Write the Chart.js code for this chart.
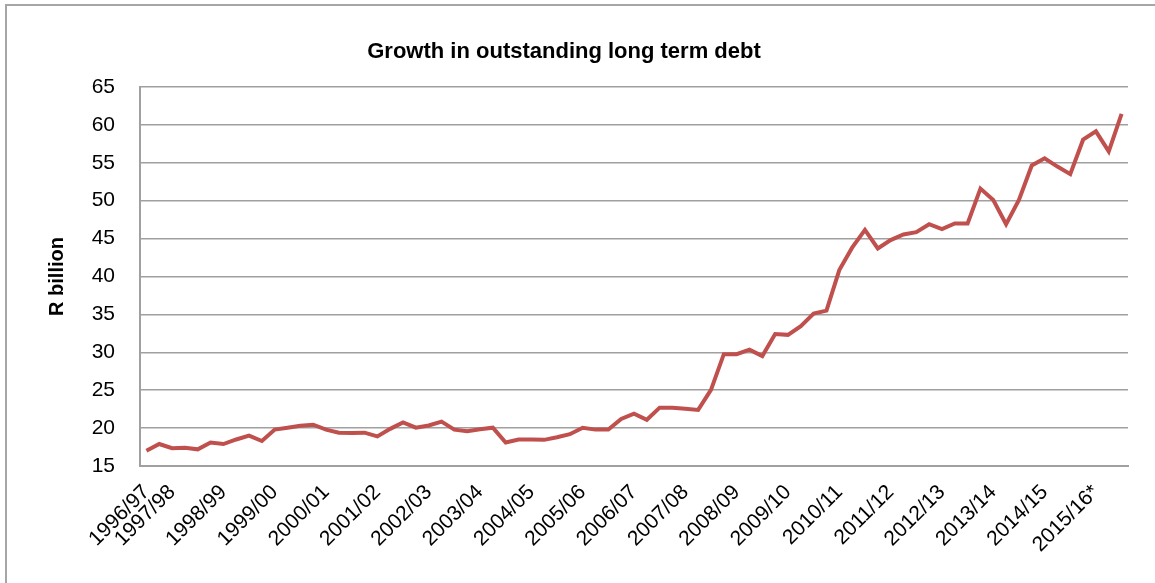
<!DOCTYPE html>
<html>
<head>
<meta charset="utf-8">
<title>Growth in outstanding long term debt</title>
<script src="https://cdn.jsdelivr.net/npm/chart.js@4/dist/chart.umd.min.js"></script>
<style>
    html, body { margin: 0; padding: 0; background: #fff; overflow: hidden; }
    #wrap { position: relative; width: 1155px; height: 583px; }
    #frame {
        position: absolute; left: 5px; top: 4px; width: 1200px; height: 700px;
        border-left: 2px solid #a6a6a6; border-top: 2px solid #a6a6a6;
    }
    canvas { position: absolute; left: 0; top: 0; }
</style>
</head>
<body>
<div id="wrap">
    <div id="frame"></div>
    <canvas id="debtChart" width="1155" height="583"></canvas>
</div>
<script>
// fiscal-year tick labels (first point is Q3 of 1996/97, then each label sits on Q1)
const yearLabels = ['1996/97', '1997/98', '1998/99', '1999/00', '2000/01', '2001/02', '2002/03',
    '2003/04', '2004/05', '2005/06', '2006/07', '2007/08', '2008/09', '2009/10', '2010/11',
    '2011/12', '2012/13', '2013/14', '2014/15', '2015/16*'];

// outstanding long term debt per quarter, R billion
const debt = [
    17.0, 17.9, 17.35, 17.4, 17.2, 18.1, 17.9, 18.5, 19.0, 18.3,
    19.8, 20.05, 20.3, 20.45, 19.8, 19.4, 19.35, 19.4, 18.9, 19.9,
    20.75, 20.05, 20.35, 20.85, 19.8, 19.6, 19.85, 20.05, 18.1, 18.5,
    18.5, 18.45, 18.8, 19.2, 20.05, 19.8, 19.8, 21.2, 21.9, 21.1,
    22.7, 22.7, 22.55, 22.4, 25.05, 29.75, 29.75, 30.35, 29.5, 32.4,
    32.3, 33.45, 35.1, 35.5, 40.85, 43.8, 46.15, 43.7, 44.8, 45.55,
    45.85, 46.9, 46.25, 47.0, 47.0, 51.6, 50.1, 46.9, 50.1, 54.65,
    55.6, 54.5, 53.5, 58.05, 59.15, 56.5, 61.45
];

const yTicks = [15, 20, 25, 30, 35, 40, 45, 50, 55, 60, 65];

const categories = debt.map((v, i) => {
    if (i === 0) return yearLabels[0];
    if ((i - 2) % 4 === 0) return yearLabels[(i - 2) / 4 + 1];
    return '';
});

const FONT = "'Liberation Sans', Arial, sans-serif";
const GRID = '#a0a0a0';

new Chart(document.getElementById('debtChart'), {
    type: 'line',
    data: {
        labels: categories,
        datasets: [{
            data: debt,
            borderColor: '#c0504d',
            borderWidth: 4,
            pointRadius: 0,
            tension: 0,
            fill: false
        }]
    },
    options: {
        responsive: false,
        animation: false,
        layout: { padding: { left: 0, right: 27, top: 0, bottom: 0 } },
        plugins: {
            legend: { display: false },
            tooltip: { enabled: false },
            title: {
                display: true,
                text: 'Growth in outstanding long term debt',
                color: '#000',
                font: { family: FONT, size: 22, weight: 'bold' },
                padding: { top: 39, bottom: 21.6 }
            }
        },
        scales: {
            x: {
                offset: true,
                grid: { display: false, drawTicks: false },
                border: { display: true, color: GRID, width: 2 },
                ticks: {
                    autoSkip: false,
                    minRotation: 45,
                    maxRotation: 45,
                    padding: 14,
                    color: '#000',
                    font: { family: FONT, size: 21 }
                },
                afterFit: s => { s.height = 117; }
            },
            y: {
                min: 15,
                max: 65,
                afterBuildTicks: s => { s.ticks = yTicks.map(v => ({ value: v })); },
                grid: { color: GRID, lineWidth: 1.5, drawTicks: false },
                border: { display: true, color: GRID, width: 2 },
                ticks: {
                    padding: 25,
                    color: '#000',
                    font: { family: FONT, size: 21 }
                },
                title: {
                    display: true,
                    text: 'R billion',
                    color: '#000',
                    font: { family: FONT, size: 20, weight: 'bold' },
                    padding: { top: 45, bottom: 0 }
                },
                afterFit: s => { s.width = 140; }
            }
        }
    }
});
</script>
</body>
</html>
